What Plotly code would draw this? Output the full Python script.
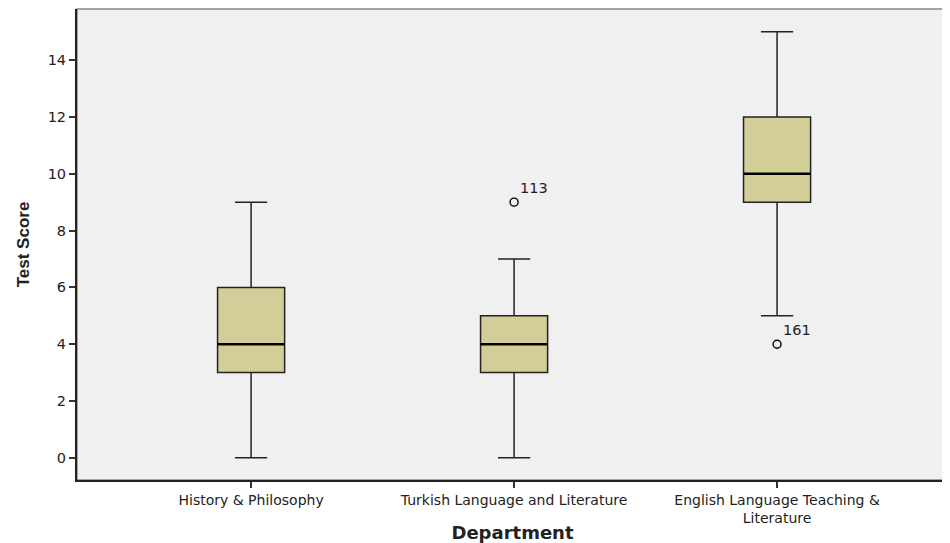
import plotly.graph_objects as go

categories = ["History & Philosophy", "Turkish Language and Literature", "English Language Teaching &<br>Literature"]
lower = [0, 0, 5]
q1 = [3, 3, 9]
median = [4, 4, 10]
q3 = [6, 5, 12]
upper = [9, 7, 15]
outlier_cat = [1, 2]
outlier_val = [9, 4]
outlier_lbl = ["113", "161"]
yticks = [0, 2, 4, 6, 8, 10, 12, 14]

pos = list(range(len(categories)))
box_w = 0.255

fig = go.Figure()
fig.add_trace(go.Box(
    x=pos, q1=q1, median=median, q3=q3, lowerfence=lower, upperfence=upper,
    width=box_w, whiskerwidth=0.48,
    fillcolor="#D3CE98", line=dict(color="#222222", width=1.5),
    boxpoints=False, showlegend=False, hoverinfo="skip"))

for i, m in zip(pos, median):
    fig.add_trace(go.Scatter(x=[i - box_w/2, i + box_w/2], y=[m, m], mode="lines",
                             line=dict(color="black", width=2.5), showlegend=False, hoverinfo="skip"))

fig.add_trace(go.Scatter(x=outlier_cat, y=outlier_val, mode="markers+text",
                         marker=dict(symbol="circle-open", size=8, color="black", line=dict(width=1.4)),
                         text=outlier_lbl, textposition="top right",
                         textfont=dict(family="DejaVu Sans", size=14.5, color="#222"),
                         showlegend=False, hoverinfo="skip"))

fig.update_layout(
    width=942, height=535,
    margin=dict(l=69, r=2, t=1, b=63),
    paper_bgcolor="white", plot_bgcolor="#F0F0F0",
    font=dict(family="DejaVu Sans", size=14, color="#222"),
    xaxis=dict(range=[-0.662, 2.65], tickvals=pos, ticktext=categories,
               tickfont=dict(size=14),
               ticks="outside", ticklen=6, tickwidth=1.5, tickcolor="#333",
               showgrid=False, zeroline=False, showline=True, linecolor="#222", linewidth=2,
               mirror=False,
               title=dict(text="<b>Department</b>", font=dict(size=18, family="DejaVu Sans"), standoff=4)),
    yaxis=dict(range=[-0.78, 15.8], tickvals=yticks,
               tickfont=dict(size=14.5),
               ticks="outside", ticklen=6, tickwidth=1.5, tickcolor="#333",
               showgrid=False, zeroline=False, showline=True, linecolor="#222", linewidth=2,
               title=dict(text="<b>Test Score</b>", font=dict(size=17, family="Liberation Sans Narrow, Arial Narrow, Liberation Sans"), standoff=14)),
    shapes=[dict(type="rect", xref="paper", yref="paper", x0=0, x1=1, y0=0, y1=1,
                 line=dict(color="#888", width=1.5), layer="below")],
)

fig.write_html("out.html")
